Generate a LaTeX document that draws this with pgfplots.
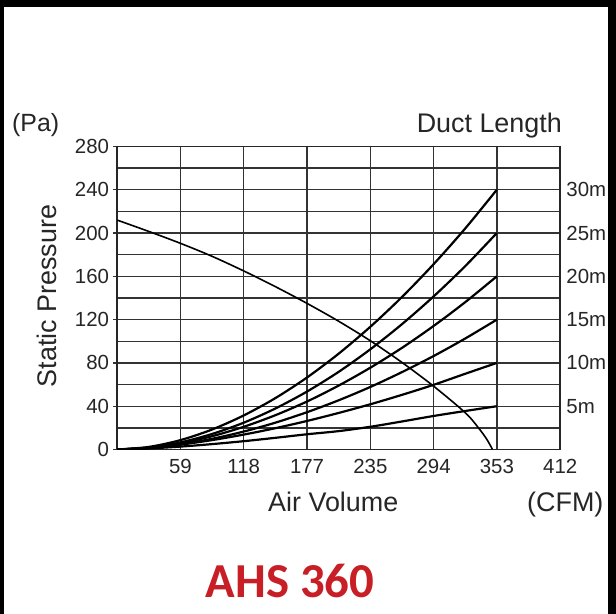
\documentclass[border=0pt]{standalone}
\usepackage{pgfplots}
\usepackage{pgfplotstable}
\pgfplotsset{compat=1.18}
\usepackage{fontspec}
\setmainfont{Liberation Sans}
\newfontfamily\titlefont{Carlito}

\definecolor{titleRed}{RGB}{200,30,38}

% duct resistance curves, Pa against CFM
\pgfplotstableread{
x     d5    d10   d15   d20   d25   d30
0     0     0     0     0     0     0
29.4  1.0   1.3   1.4   1.6   1.8   2.4
58.9  2.7   4.5   4.8   5.8   6.6   8.7
88.3  5.0   8.7   9.9   12.3  14.4  18.5
117.7 7.7   13.8  16.6  21.0  24.8  31.5
147.1 10.8  19.7  24.8  31.7  37.9  47.5
176.6 14.1  26.4  34.5  44.4  53.6  66.6
206.0 17.0  33.8  45.5  59.1  71.8  88.6
235.4 21.0  41.8  57.8  75.6  92.6  113.4
264.8 25.9  50.5  71.5  93.9  115.8 140.9
294.3 31.0  59.8  86.4  114.2 141.5 171.3
323.7 35.6  70.0  102.6 136.2 169.5 204.3
353.0 40    80    120   160   200   240
}\ductdata

% fan curve
\pgfplotstableread{
x     p
0     212
29.4  201.5
58.9  190.5
88.3  178.5
117.7 165
147.1 150.5
176.6 135
206.0 118.5
235.4 100.5
264.8 80.5
294.3 58.5
323.7 34
336   20
344   9
349   0
}\fandata

\begin{document}
\begin{tikzpicture}[x=1bp,y=1bp]
\path[use as bounding box] (0,0) rectangle (616,614);
\fill[black] (0,0) rectangle (616,614);
\fill[white] (4,0) rectangle (608,607);

\pgfplotsset{
  chartbase/.style={
    at={(109,152)}, anchor=south west,
    scale only axis, width=443bp, height=303bp,
    xmin=0, xmax=412, ymin=0, ymax=280,
    /pgf/number format/assume math mode=true,
    tick label style={font=\fontsize{20.5}{24}\selectfont, inner sep=0pt, text=black!85},
  },
}

\begin{axis}[
    chartbase,
    xtick={58.86,117.71,176.57,235.43,294.29,353.14,412},
    xticklabels={59,118,177,235,294,353,412},
    minor x tick num=1,
    ytick={0,40,...,280},
    minor y tick num=1,
    grid=both,
    major grid style={black!80, line width=1.4bp},
    minor grid style={black!80, line width=1.4bp},
    axis line style={black!85, line width=1.5bp},
    tick align=outside,
    major tick length=4bp,
    minor tick length=0pt,
    x tick style={draw=none},
    y tick style={black!80, line width=1.4bp},
    ytick pos=left,
    xtick pos=bottom,
    xticklabel style={yshift=-6bp},
    yticklabel style={xshift=-4bp},
]
\addplot[black, line width=2.2bp, smooth] table[x=x, y=d5] {\ductdata};
\addplot[black, line width=2.2bp, smooth] table[x=x, y=d10] {\ductdata};
\addplot[black, line width=2.2bp, smooth] table[x=x, y=d15] {\ductdata};
\addplot[black, line width=2.2bp, smooth] table[x=x, y=d20] {\ductdata};
\addplot[black, line width=2.2bp, smooth] table[x=x, y=d25] {\ductdata};
\addplot[black, line width=2.2bp, smooth] table[x=x, y=d30] {\ductdata};
\addplot[black, line width=1.6bp, smooth] table[x=x, y=p] {\fandata};
\end{axis}

% right-hand duct length scale
\begin{axis}[
    chartbase,
    axis x line=none,
    axis y line*=right,
    axis line style={draw=none},
    ytick={40,80,...,240},
    yticklabels={5m,10m,15m,20m,25m,30m},
    major tick length=0pt,
    yticklabel style={anchor=west, xshift=6bp},
]
\end{axis}

\node[anchor=base west, inner sep=0pt, text=black!85, font=\fontsize{25}{30}\selectfont] at (12,482) {(Pa)};
\node[anchor=base east, inner sep=0pt, text=black!85, font=\fontsize{27}{32}\selectfont] at (562,481) {Duct Length};
\node[anchor=base west, inner sep=0pt, text=black!85, font=\fontsize{27}{32}\selectfont] at (268,102) {Air Volume};
\node[anchor=base west, inner sep=0pt, text=black!85, font=\fontsize{27}{32}\selectfont] at (527,102) {(CFM)};
\node[rotate=90, inner sep=0pt, text=black!85, font=\fontsize{27}{32}\selectfont] at (47,318) {Static Pressure};
\node[anchor=base, inner sep=0pt, text=titleRed, font=\titlefont\bfseries\fontsize{49}{58}\selectfont] at (290,16) {AHS 360};
\end{tikzpicture}
\end{document}
